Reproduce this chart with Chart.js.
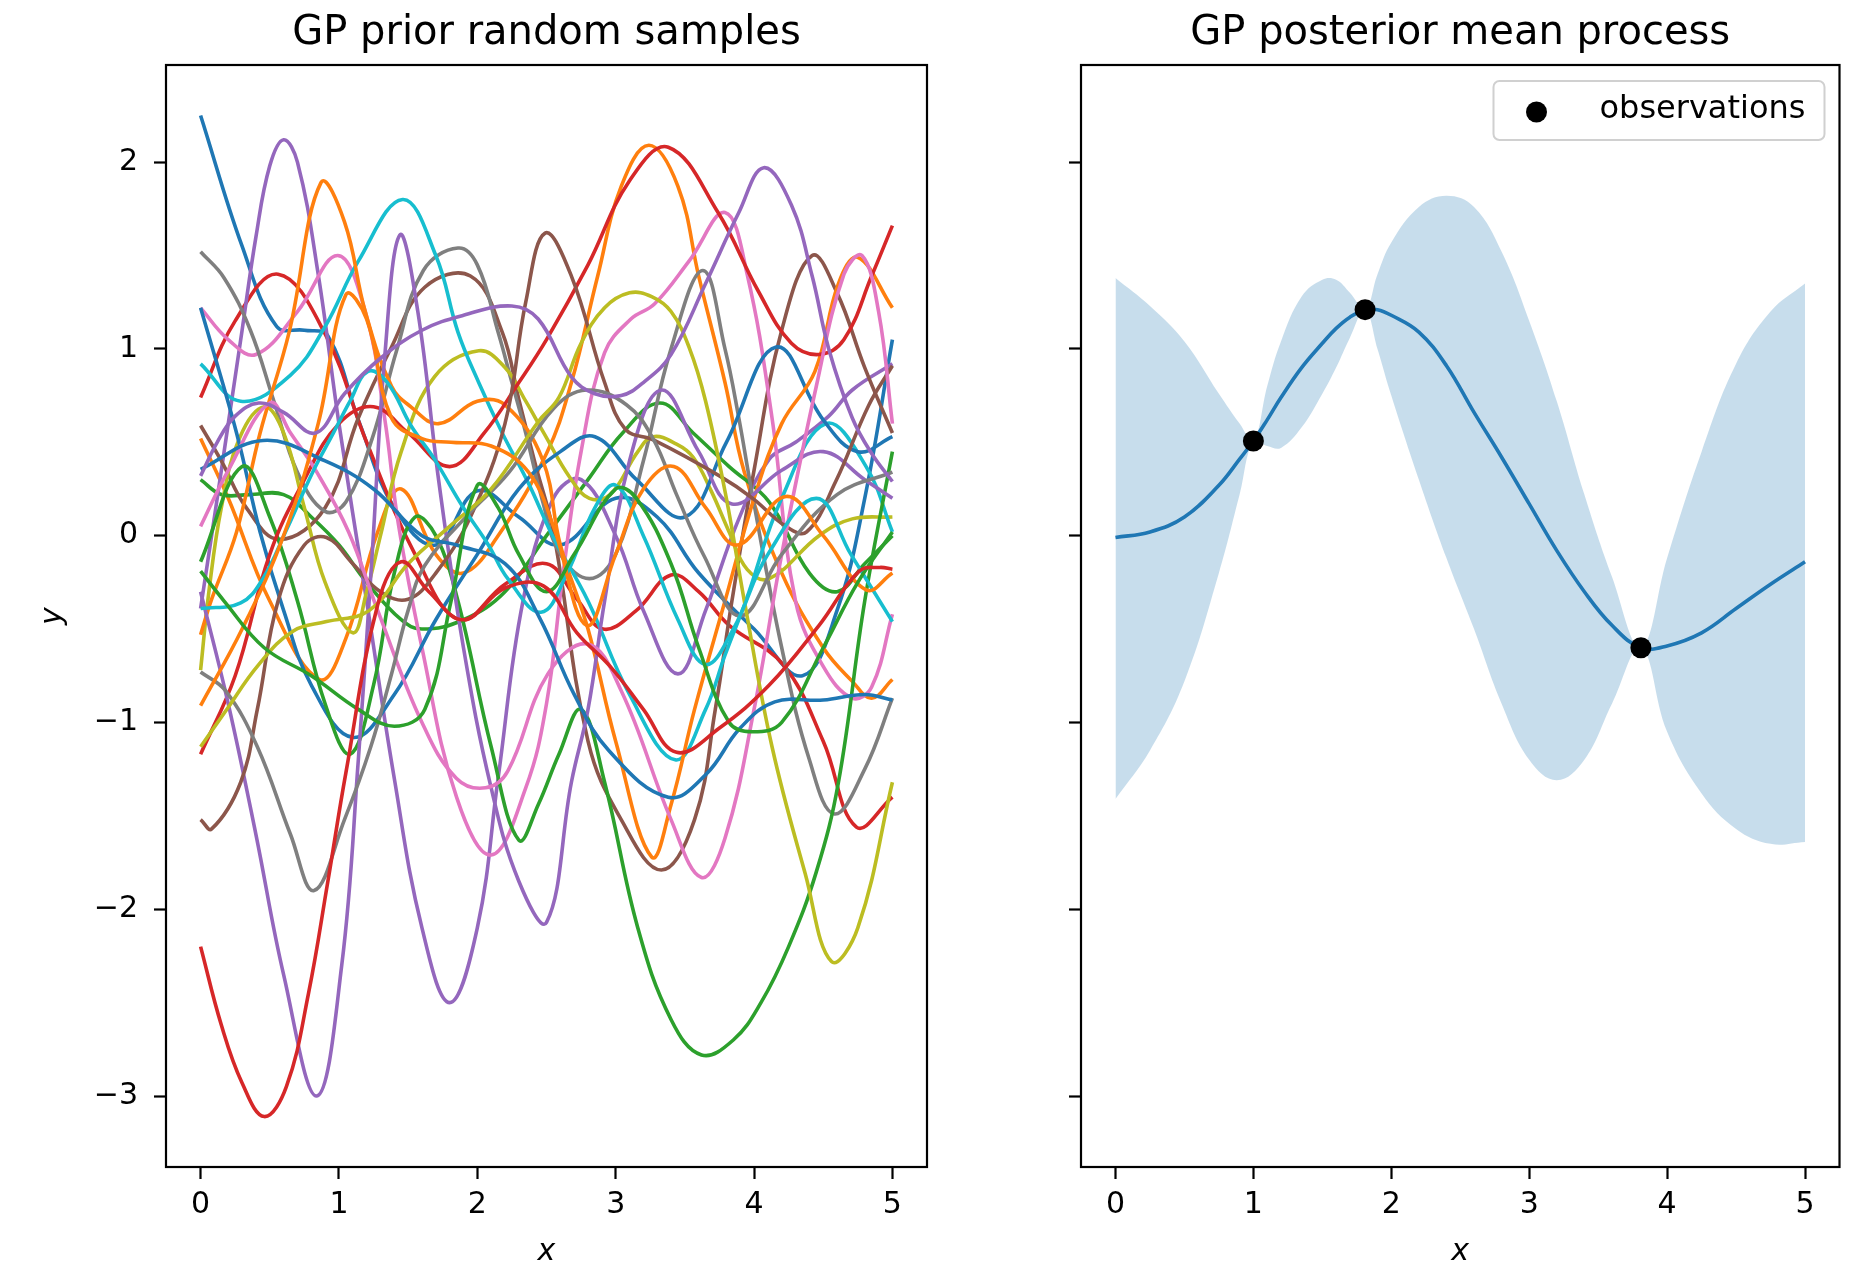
<!DOCTYPE html>
<html>
<head>
<meta charset="utf-8">
<title>GP samples</title>
<script src="https://cdn.jsdelivr.net/npm/chart.js@4.4.1/dist/chart.umd.min.js"></script>
<style>
  html, body { margin: 0; padding: 0; background: #fff; }
  body { width: 1850px; height: 1261px; position: relative; overflow: hidden; }
  canvas { position: absolute; top: 0; }
  #prior { left: 0; }
  #post { left: 940px; }
</style>
</head>
<body>
<canvas id="prior" width="940" height="1261"></canvas>
<canvas id="post" width="910" height="1261"></canvas>
<script>
// prior samples, [x, y] knots along each path
const blue1 = [[0,2.25],[0.3,1.55],[0.55,1.12],[0.75,1.10],[0.92,1.07],[1.15,0.6],[1.4,0.15],[1.7,-0.05],[2.0,0.24],[2.3,0.1],[2.6,-0.05],[3.0,0.2],[3.3,0.1],[3.6,-0.2],[4.0,-0.5],[4.35,-0.75],[4.6,-0.4],[4.8,0.2],[5.0,1.05]];
const orange1 = [[0,0.52],[0.2,0.2],[0.5,-0.35],[0.86,-0.77],[1.05,-0.55],[1.28,0.02],[1.45,0.25],[1.7,-0.1],[1.9,-0.2],[2.15,0.0],[2.5,0.44],[2.68,0.82],[2.87,1.39],[3.04,1.87],[3.24,2.09],[3.45,1.87],[3.6,1.39],[3.79,0.82],[3.93,0.34],[4.2,-0.2],[4.5,-0.6],[4.71,-0.78],[4.85,-0.87],[5.0,-0.77]];
const green1 = [[0,0.30],[0.15,0.22],[0.35,0.22],[0.6,0.22],[0.8,0.1],[1.0,-0.05],[1.2,-0.25],[1.45,-0.45],[1.6,-0.5],[1.9,-0.45],[2.2,-0.3],[2.5,0.0],[2.8,0.3],[3.05,0.55],[3.32,0.71],[3.56,0.55],[3.82,0.37],[4.11,0.18],[4.4,-0.2],[4.6,-0.3],[4.8,-0.15],[5.0,0.0]];
const red1 = [[0,0.74],[0.25,1.15],[0.56,1.40],[0.9,1.08],[1.2,0.5],[1.55,-0.1],[1.87,-0.45],[2.2,-0.26],[2.5,-0.15],[2.72,-0.34],[2.91,-0.50],[3.15,-0.4],[3.40,-0.21],[3.6,-0.3],[3.82,-0.48],[4.21,-0.69],[4.5,-1.1],[4.74,-1.56],[5.0,-1.40]];
const purple1 = [[0,-0.39],[0.1,0.1],[0.2,0.6],[0.3,1.1],[0.4,1.6],[0.5,1.98],[0.6,2.12],[0.7,2.0],[0.85,1.4],[1.0,0.6],[1.2,-0.35],[1.4,-1.3],[1.6,-2.1],[1.8,-2.5],[2.0,-2.1],[2.15,-1.3],[2.33,-0.35],[2.55,0.2],[2.75,0.3],[3.0,0.0],[3.2,-0.4],[3.45,-0.74],[3.65,-0.4],[3.89,0.09],[4.11,0.41],[4.3,0.50],[4.54,0.64],[4.71,0.78],[5.0,0.92]];
const brown1 = [[0,0.59],[0.15,0.40],[0.33,0.15],[0.57,-0.02],[0.9,0.15],[1.14,0.63],[1.38,1.01],[1.62,1.33],[1.95,1.39],[2.18,1.09],[2.3,0.73],[2.42,0.38],[2.55,0.02],[2.8,-1.1],[3.04,-1.52],[3.33,-1.79],[3.57,-1.52],[3.72,-0.93],[3.84,-0.35],[4.0,0.35],[4.2,1.1],[4.42,1.50],[4.6,1.3],[4.8,0.9],[5.0,0.55]];
const pink1 = [[0,1.22],[0.2,1.05],[0.4,0.97],[0.7,1.2],[0.99,1.50],[1.19,1.2],[1.33,0.63],[1.43,0.06],[1.6,-0.6],[1.85,-1.4],[2.1,-1.71],[2.35,-1.35],[2.5,-0.9],[2.62,-0.2],[2.75,0.45],[2.92,0.98],[3.11,1.16],[3.28,1.24],[3.53,1.47],[3.79,1.73],[3.95,1.4],[4.13,0.63],[4.3,-0.35],[4.5,-0.7],[4.71,-0.87],[4.85,-0.81],[5.0,-0.42]];
const gray1 = [[0,1.52],[0.17,1.38],[0.36,1.10],[0.53,0.72],[0.70,0.34],[0.9,0.13],[1.05,0.18],[1.24,0.52],[1.42,1.0],[1.61,1.42],[1.86,1.54],[2.0,1.45],[2.15,1.09],[2.25,0.82],[2.35,0.55],[2.47,0.19],[2.6,-0.1],[2.81,-0.23],[3.0,-0.1],[3.2,0.4],[3.4,1.0],[3.63,1.42],[3.79,1.0],[3.89,0.63],[3.98,0.25],[4.2,-0.6],[4.4,-1.2],[4.58,-1.49],[4.8,-1.25],[5.0,-0.87]];
const olive1 = [[0,-0.72],[0.06,-0.3],[0.15,0.15],[0.28,0.52],[0.46,0.69],[0.6,0.55],[0.75,0.15],[0.9,-0.25],[1.1,-0.52],[1.2,-0.3],[1.3,0.0],[1.45,0.45],[1.69,0.85],[2.01,0.99],[2.2,0.9],[2.35,0.72],[2.48,0.55],[2.67,0.31],[2.81,0.20],[2.96,0.22],[3.16,0.45],[3.27,0.53],[3.44,0.49],[3.56,0.42],[3.69,0.24],[3.82,0.02],[3.95,-0.18],[4.11,-0.23],[4.47,0.0],[4.71,0.09],[5.0,0.1]];
const cyan1 = [[0,0.92],[0.29,0.72],[0.65,0.86],[0.90,1.12],[1.14,1.47],[1.46,1.80],[1.7,1.5],[1.86,1.09],[2.01,0.82],[2.18,0.55],[2.37,0.28],[2.55,-0.01],[2.8,-0.35],[3.1,-0.85],[3.43,-1.20],[3.65,-0.93],[3.79,-0.64],[3.94,-0.35],[4.2,0.2],[4.52,0.60],[4.81,0.37],[5.0,0.02]];
const blue2 = [[0,1.22],[0.26,0.55],[0.43,0.02],[0.6,-0.4],[0.8,-0.8],[1.1,-1.08],[1.4,-0.85],[1.7,-0.45],[2.0,-0.1],[2.3,0.25],[2.6,0.45],[2.85,0.53],[3.15,0.3],[3.5,0.1],[3.8,0.5],[4.16,1.01],[4.5,0.62],[4.75,0.45],[5.0,0.53]];
const orange2 = [[0,-0.53],[0.08,-0.34],[0.26,0.02],[0.43,0.55],[0.64,1.09],[0.87,1.89],[1.04,1.68],[1.19,1.2],[1.38,0.8],[1.52,0.69],[1.72,0.60],[2.0,0.72],[2.2,0.70],[2.47,0.41],[2.6,-0.05],[2.8,-0.5],[3.0,-1.1],[3.26,-1.72],[3.40,-1.44],[3.57,-0.93],[3.79,-0.35],[4.0,0.2],[4.2,0.6],[4.44,0.88],[4.61,1.35],[4.75,1.49],[5.0,1.22]];
const green2 = [[0,-0.14],[0.3,0.37],[0.5,0.1],[0.7,-0.35],[0.9,-0.9],[1.08,-1.17],[1.25,-0.8],[1.4,-0.2],[1.55,0.1],[1.7,0.0],[1.86,-0.35],[2.1,-1.13],[2.30,-1.63],[2.44,-1.44],[2.59,-1.17],[2.75,-0.93],[2.92,-1.32],[3.16,-2.10],[3.40,-2.59],[3.62,-2.78],[3.85,-2.7],[4.05,-2.5],[4.25,-2.2],[4.45,-1.8],[4.61,-1.32],[4.80,-0.35],[5.0,0.45]];
const red2 = [[0,-1.17],[0.25,-0.75],[0.5,-0.1],[0.75,0.3],[1.0,0.6],[1.25,0.69],[1.5,0.55],[1.8,0.37],[2.05,0.55],[2.3,0.82],[2.5,1.05],[2.8,1.45],[3.1,1.9],[3.38,2.08],[3.74,1.73],[4.03,1.31],[4.27,1.03],[4.47,0.97],[4.65,1.05],[4.85,1.39],[5.0,1.66]];
const purple2 = [[0,-0.30],[0.2,-0.9],[0.4,-1.6],[0.6,-2.35],[0.84,-3.0],[1.02,-2.3],[1.14,-1.2],[1.24,-0.1],[1.33,0.95],[1.44,1.61],[1.57,1.2],[1.72,0.3],[1.9,-0.6],[2.1,-1.35],[2.3,-1.85],[2.5,-2.07],[2.68,-1.32],[2.80,-0.93],[2.92,-0.35],[3.1,0.4],[3.33,0.78],[3.6,0.45],[3.84,0.17],[4.2,0.35],[4.5,0.45],[4.8,0.3],[5.0,0.2]];
const brown2 = [[0,-1.52],[0.08,-1.57],[0.29,-1.32],[0.41,-0.93],[0.56,-0.35],[0.75,-0.05],[0.91,-0.01],[1.1,-0.15],[1.3,-0.3],[1.5,-0.34],[1.7,-0.2],[1.95,0.1],[2.2,0.6],[2.35,1.25],[2.49,1.62],[2.68,1.39],[2.92,0.82],[3.07,0.57],[3.28,0.51],[3.75,0.32],[3.99,0.20],[4.23,0.05],[4.38,0.02],[4.59,0.29],[4.83,0.70],[5.0,0.91]];
const pink2 = [[0,0.05],[0.2,0.35],[0.5,0.71],[0.65,0.55],[0.84,0.34],[1.07,0.02],[1.28,-0.4],[1.6,-1.0],[1.85,-1.3],[2.06,-1.35],[2.22,-1.26],[2.51,-0.74],[2.8,-0.58],[3.04,-0.83],[3.40,-1.52],[3.62,-1.83],[3.79,-1.62],[4.0,-0.93],[4.2,-0.1],[4.45,0.8],[4.65,1.4],[4.78,1.5],[4.9,1.2],[5.0,0.6]];
const gray2 = [[0,-0.73],[0.18,-0.83],[0.41,-1.13],[0.65,-1.6],[0.82,-1.9],[1.04,-1.52],[1.23,-1.13],[1.38,-0.74],[1.5,-0.4],[1.62,-0.16],[1.93,0.11],[2.23,0.34],[2.55,0.68],[2.79,0.78],[3.08,0.70],[3.27,0.52],[3.44,0.22],[3.64,-0.11],[3.9,-0.43],[4.2,-0.1],[4.6,0.22],[5.0,0.34]];
const olive2 = [[0,-1.13],[0.18,-0.94],[0.42,-0.69],[0.67,-0.51],[0.91,-0.46],[1.22,-0.40],[1.5,-0.15],[1.8,0.05],[2.1,0.25],[2.44,0.61],[2.59,0.74],[2.75,1.03],[2.92,1.22],[3.1,1.30],[3.26,1.28],[3.40,1.2],[3.53,1.01],[3.65,0.72],[3.8,0.2],[3.93,-0.35],[4.13,-1.13],[4.37,-1.81],[4.56,-2.28],[4.75,-2.1],[5.0,-1.32]];
const cyan2 = [[0,-0.39],[0.29,-0.36],[0.45,-0.23],[0.62,0.03],[0.81,0.34],[0.96,0.55],[1.08,0.72],[1.21,0.88],[1.35,0.82],[1.52,0.59],[1.69,0.41],[1.89,0.16],[2.08,-0.05],[2.22,-0.23],[2.46,-0.41],[2.65,-0.2],[2.85,0.15],[3.0,0.27],[3.2,0.0],[3.45,-0.45],[3.65,-0.69],[3.85,-0.5],[4.1,-0.1],[4.45,0.20],[4.7,-0.1],[5.0,-0.46]];
const blue3 = [[0,0.355],[0.45,0.51],[0.9,0.4],[1.25,0.25],[1.6,0.0],[1.85,-0.05],[2.2,-0.15],[2.45,-0.44],[2.7,-0.85],[2.95,-1.15],[3.38,-1.40],[3.65,-1.28],[3.9,-1.03],[4.15,-0.89],[4.5,-0.88],[4.8,-0.85],[5.0,-0.88]];
const orange3 = [[0,-0.91],[0.3,-0.5],[0.6,0.0],[0.85,0.6],[1.05,1.29],[1.2,1.16],[1.38,0.63],[1.6,0.52],[1.81,0.50],[2.1,0.48],[2.37,0.34],[2.55,0.05],[2.79,-0.48],[3.0,-0.1],[3.2,0.25],[3.42,0.37],[3.65,0.15],[3.88,-0.05],[4.23,0.21],[4.5,0.0],[4.81,-0.29],[5.0,-0.2]];
const green3 = [[0,-0.19],[0.17,-0.35],[0.46,-0.60],[0.80,-0.75],[1.14,-0.93],[1.40,-1.02],[1.62,-0.93],[1.81,-0.35],[2.0,0.27],[2.15,0.15],[2.3,-0.1],[2.5,-0.3],[2.7,-0.1],[3.0,0.25],[3.15,0.2],[3.4,-0.15],[3.6,-0.6],[3.82,-1.0],[3.99,-1.05],[4.2,-1.0],[4.5,-0.6],[4.75,-0.25],[5.0,0.02]];
const red3 = [[0,-2.2],[0.15,-2.62],[0.3,-2.93],[0.46,-3.11],[0.62,-2.95],[0.78,-2.45],[0.92,-1.85],[1.05,-1.27],[1.28,-0.37],[1.45,-0.14],[1.65,-0.3],[1.9,-0.45],[2.2,-0.28],[2.48,-0.27],[2.72,-0.52],[2.96,-0.70],[3.2,-0.93],[3.44,-1.16],[3.75,-1.03],[4.11,-0.80],[4.47,-0.48],[4.76,-0.19],[4.91,-0.17],[5.0,-0.18]];
const purple3 = [[0,0.32],[0.12,0.5],[0.25,0.64],[0.42,0.71],[0.6,0.66],[0.83,0.55],[1.04,0.76],[1.3,0.95],[1.6,1.1],[1.9,1.18],[2.25,1.23],[2.44,1.16],[2.68,0.85],[2.85,0.76],[3.04,0.75],[3.2,0.82],[3.40,0.97],[3.65,1.35],[3.89,1.73],[4.07,1.97],[4.27,1.77],[4.42,1.39],[4.54,1.0],[4.71,0.63],[4.85,0.44],[5.0,0.29]];

const samples = [blue1, orange1, green1, red1, purple1, brown1, pink1, gray1, olive1, cyan1,
                 blue2, orange2, green2, red2, purple2, brown2, pink2, gray2, olive2, cyan2,
                 blue3, orange3, green3, red3, purple3];

// posterior
const postX = [0,0.25,0.5,0.75,0.9,1.0,1.1,1.2,1.35,1.5,1.6,1.7,1.81,1.9,2.0,2.2,2.4,2.6,2.8,3.0,3.2,3.4,3.6,3.81,4.0,4.25,4.5,4.75,5.0];
const postMean = [-0.01,0.02,0.10,0.27,0.41,0.507,0.62,0.74,0.90,1.03,1.11,1.17,1.21,1.21,1.18,1.09,0.91,0.66,0.42,0.17,-0.08,-0.30,-0.48,-0.60,-0.59,-0.52,-0.39,-0.26,-0.14];
const postUpper = [1.38,1.23,1.04,0.76,0.60,0.507,0.80,1.04,1.28,1.37,1.37,1.30,1.21,1.40,1.57,1.76,1.82,1.76,1.52,1.15,0.72,0.22,-0.22,-0.60,-0.12,0.45,0.92,1.20,1.35];
const postLower = [-1.41,-1.15,-0.78,-0.20,0.22,0.507,0.48,0.47,0.58,0.76,0.90,1.06,1.21,1.00,0.75,0.30,-0.12,-0.50,-0.90,-1.20,-1.31,-1.20,-0.90,-0.60,-1.05,-1.38,-1.57,-1.65,-1.64];
const obsX = [1.0, 1.81, 3.81];
const obsY = [0.507, 1.21, -0.60];

const xTicks = [0, 1, 2, 3, 4, 5];
const yTicks = [-3, -2, -1, 0, 1, 2];

const tab10 = ['#1f77b4','#ff7f0e','#2ca02c','#d62728','#9467bd','#8c564b','#e377c2','#7f7f7f','#bcbd22','#17becf'];
const FONT = '"DejaVu Sans", "Liberation Sans", sans-serif';
const tickFont = { family: FONT, size: 30 };

function fmt(v) {
  return v < 0 ? '\u2212' + Math.abs(v) : String(v);
}

function xyPairs(xs, ys) {
  return xs.map((x, i) => ({ x: x, y: ys[i] }));
}

function scales(showYLabels, yWidth) {
  return {
    x: {
      type: 'linear', min: -0.25, max: 5.25,
      afterBuildTicks: s => { s.ticks = xTicks.map(v => ({ value: v })); },
      afterFit: s => { s.height = 94; },
      ticks: { font: tickFont, color: '#000', padding: 8, maxRotation: 0, autoSkip: false, callback: fmt },
      grid: { drawOnChartArea: false, drawTicks: true, tickLength: 12, tickWidth: 2.2, tickColor: '#000' },
      border: { display: false }
    },
    y: {
      type: 'linear', min: -3.38, max: 2.52,
      afterBuildTicks: s => { s.ticks = yTicks.map(v => ({ value: v })); },
      afterFit: s => { s.width = yWidth; },
      ticks: { display: showYLabels, font: tickFont, color: '#000', padding: 16, autoSkip: false, callback: fmt },
      grid: { drawOnChartArea: false, drawTicks: true, tickLength: 12, tickWidth: 2.2, tickColor: '#000' },
      border: { display: false }
    }
  };
}

// axes frame, title and axis labels
function decor(title, withYLabel, legend) {
  return {
    id: 'decor',
    afterDraw(chart) {
      const ctx = chart.ctx;
      const a = chart.chartArea;
      ctx.save();
      ctx.strokeStyle = '#000';
      ctx.lineWidth = 2.2;
      ctx.strokeRect(a.left, a.top, a.right - a.left, a.bottom - a.top);

      ctx.fillStyle = '#000';
      ctx.textAlign = 'center';
      ctx.textBaseline = 'alphabetic';
      ctx.font = '40px ' + FONT;
      ctx.fillText(title, (a.left + a.right) / 2, 44);

      ctx.font = 'italic 30px ' + FONT;
      ctx.fillText('x', (a.left + a.right) / 2, 1260);
      if (withYLabel) {
        ctx.translate(53, (a.top + a.bottom) / 2);
        ctx.rotate(-Math.PI / 2);
        ctx.textBaseline = 'middle';
        ctx.fillText('y', 0, 0);
        ctx.setTransform(1, 0, 0, 1, 0, 0);
      }

      if (legend) {
        const bx = a.right - 346, by = a.top + 16, bw = 331, bh = 59;
        ctx.beginPath();
        ctx.roundRect(bx, by, bw, bh, 6);
        ctx.fillStyle = 'rgba(255,255,255,0.8)';
        ctx.fill();
        ctx.strokeStyle = '#d0d0d0';
        ctx.lineWidth = 2;
        ctx.stroke();
        ctx.beginPath();
        ctx.arc(bx + 43, by + 31, 10.5, 0, Math.PI * 2);
        ctx.fillStyle = '#000';
        ctx.fill();
        ctx.font = '32px ' + FONT;
        ctx.textAlign = 'left';
        ctx.textBaseline = 'middle';
        ctx.fillText(legend, bx + 106, by + 29);
      }
      ctx.restore();
    }
  };
}

new Chart(document.getElementById('prior'), {
  type: 'line',
  data: {
    datasets: samples.map((pts, i) => ({
      data: pts.map(p => ({ x: p[0], y: p[1] })),
      borderColor: tab10[i % 10],
      borderWidth: 3.6,
      pointRadius: 0,
      fill: false,
      tension: 0.4,
      order: samples.length - i
    }))
  },
  options: {
    responsive: false,
    animation: false,
    layout: { padding: { top: 65, right: 13, left: 0, bottom: 0 } },
    plugins: { legend: { display: false }, tooltip: { enabled: false } },
    scales: scales(true, 166)
  },
  plugins: [decor('GP prior random samples', true, null)]
});

new Chart(document.getElementById('post'), {
  type: 'line',
  data: {
    datasets: [
      { data: xyPairs(postX, postUpper), borderColor: 'transparent', borderWidth: 0, pointRadius: 0,
        fill: '+1', backgroundColor: 'rgba(31,119,180,0.25)', tension: 0.4, order: 4 },
      { data: xyPairs(postX, postLower), borderColor: 'transparent', borderWidth: 0, pointRadius: 0,
        fill: false, tension: 0.4, order: 3 },
      { data: xyPairs(postX, postMean), borderColor: '#1f77b4', borderWidth: 3.6, pointRadius: 0,
        fill: false, tension: 0.4, order: 2 },
      { label: 'observations', data: xyPairs(obsX, obsY), showLine: false, pointRadius: 10.5,
        pointBackgroundColor: '#000', pointBorderWidth: 0, order: 1 }
    ]
  },
  options: {
    responsive: false,
    animation: false,
    layout: { padding: { top: 65, right: 8, left: 0, bottom: 0 } },
    plugins: { legend: { display: false }, tooltip: { enabled: false } },
    scales: scales(false, 141)
  },
  plugins: [decor('GP posterior mean process', false, 'observations')]
});
</script>
</body>
</html>
